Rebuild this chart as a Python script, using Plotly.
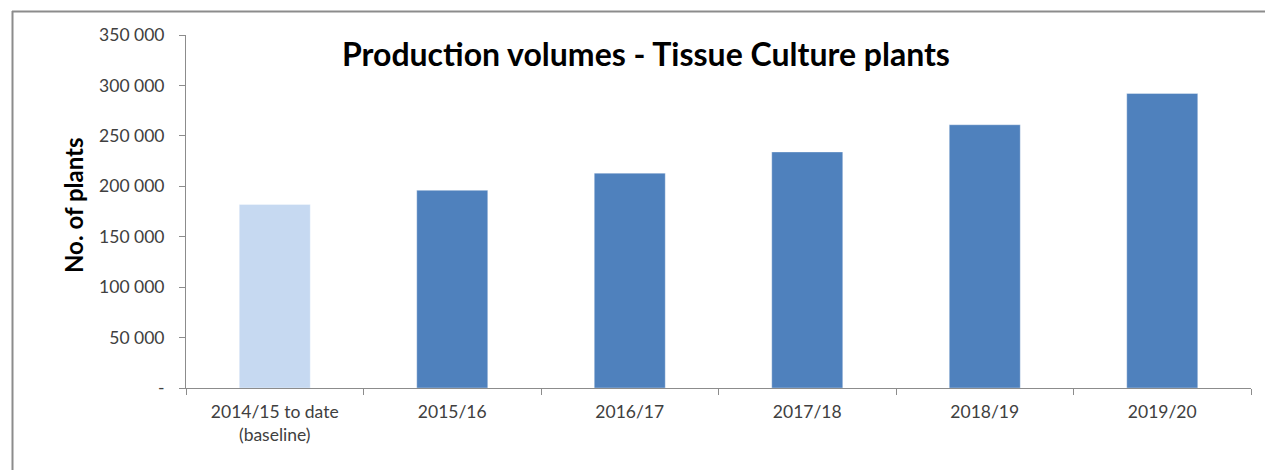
import plotly.graph_objects as go

categories = ["2014/15 to date<br>(baseline)", "2015/16", "2016/17", "2017/18", "2018/19", "2019/20"]
plants = [182000, 196000, 213000, 234000, 261000, 292000]
bar_colors = ["#C6D9F1", "#4F81BD", "#4F81BD", "#4F81BD", "#4F81BD", "#4F81BD"]
y_tickvals = [0, 50000, 100000, 150000, 200000, 250000, 300000, 350000]
y_ticktext = ["-", "50 000", "100 000", "150 000", "200 000", "250 000", "300 000", "350 000"]
title_text = "Production volumes - Tissue Culture plants"
y_title = "No. of plants"

W, H = 1265, 470
L, R, T, B = 186, 14, 35, 82
pw, ph = W - L - R, H - T - B

def px(x):
    return (x - L) / pw

def py(y):
    return (H - B - y) / ph

FONT = "Lato, Carlito, Calibri, sans-serif"
TXT = "#404040"

fig = go.Figure()
fig.add_trace(go.Bar(
    x=categories, y=plants,
    marker=dict(color=bar_colors, line=dict(color="rgba(255,255,255,0.35)", width=1)),
    width=0.4,
    hoverinfo="x+y",
))

fig.update_layout(
    width=W, height=H,
    margin=dict(l=L, r=R, t=T, b=B),
    paper_bgcolor="white", plot_bgcolor="white",
    showlegend=False,
    font=dict(family=FONT, size=17.5, color=TXT),
    xaxis=dict(
        type="category", tickson="boundaries",
        ticks="outside", ticklen=6, tickcolor="#8C8C8C",
        showline=True, linecolor="#8C8C8C", linewidth=1,
        showgrid=False, zeroline=False,
        tickfont=dict(family=FONT, size=17.5, color=TXT),
        ticklabelstandoff=8,
    ),
    yaxis=dict(
        range=[0, 350000], tickvals=y_tickvals, ticktext=y_ticktext,
        ticks="outside", ticklen=6, tickcolor="#8C8C8C",
        showline=True, linecolor="#8C8C8C", linewidth=1,
        showgrid=False, zeroline=False,
        tickfont=dict(family=FONT, size=17.5, color=TXT),
        ticklabelstandoff=11,
    ),
    annotations=[
        dict(text="<b>" + title_text + "</b>", x=px(646), y=py(54), xref="paper", yref="paper",
             xanchor="center", yanchor="middle", showarrow=False,
             font=dict(family=FONT, size=32, color="black")),
        dict(text="<b>" + y_title + "</b>", x=px(74), y=py(205), xref="paper", yref="paper",
             xanchor="center", yanchor="middle", showarrow=False, textangle=-90,
             font=dict(family=FONT, size=24, color="black")),
    ],
    shapes=[
        dict(type="line", xref="paper", yref="paper", x0=px(12), x1=px(1275), y0=py(11.5), y1=py(11.5),
             line=dict(color="#8C8C8C", width=2)),
        dict(type="line", xref="paper", yref="paper", x0=px(12.5), x1=px(12.5), y0=py(11), y1=py(480),
             line=dict(color="#8C8C8C", width=2)),
    ],
)

fig.write_html("out.html")
